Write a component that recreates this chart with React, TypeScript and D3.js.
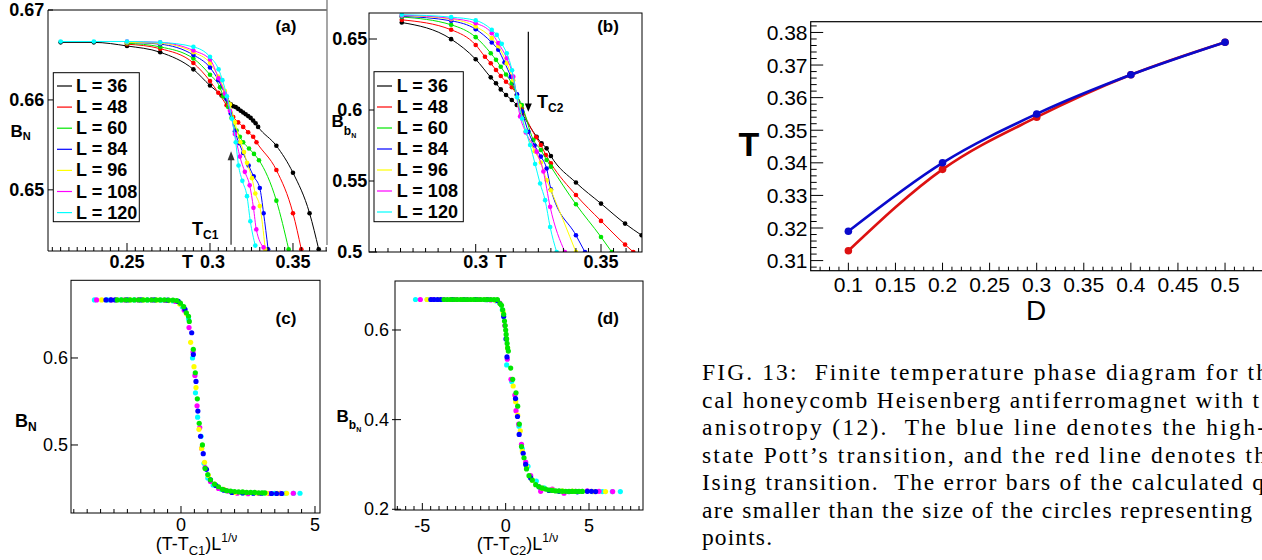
import React from "react";
import * as d3 from "d3";

const SANS = "'Liberation Sans', Arial, Helvetica, sans-serif";
const SERIF = "'Liberation Serif', 'Times New Roman', serif";

// ---------- legend / series ----------
const SIZE_LABELS = ["L = 36", "L = 48", "L = 60", "L = 84", "L = 96", "L = 108", "L = 120"];
const SIZE_COLORS = ["#000000", "#ff0000", "#00e600", "#0000ff", "#ffff00", "#ff00ff", "#00ffff"];

// ---------- panel (a): B_N vs T ----------
const a36T = [0.21, 0.23, 0.25, 0.27, 0.29, 0.30, 0.307, 0.311, 0.3125, 0.314, 0.3155, 0.317, 0.3185, 0.32, 0.3215, 0.323, 0.3245, 0.326, 0.3275, 0.329, 0.34, 0.35, 0.36, 0.3655];
const a36B = [0.6664, 0.6664, 0.6660, 0.6653, 0.6634, 0.6616, 0.6605, 0.6597, 0.6595, 0.6593, 0.6592, 0.6590, 0.6588, 0.6586, 0.6584, 0.6582, 0.6580, 0.6577, 0.6574, 0.6570, 0.6549, 0.6519, 0.6474, 0.6434];
const a48T = [0.25, 0.27, 0.29, 0.30, 0.305, 0.31, 0.314, 0.317, 0.32, 0.323, 0.326, 0.328, 0.34, 0.35, 0.355];
const a48B = [0.6662, 0.6657, 0.6641, 0.6621, 0.6608, 0.6594, 0.6581, 0.6575, 0.6570, 0.6564, 0.6559, 0.6553, 0.6522, 0.6474, 0.6434];
const a60T = [0.25, 0.27, 0.29, 0.30, 0.306, 0.308, 0.311, 0.313, 0.316, 0.318, 0.32, 0.3235, 0.3265, 0.3295, 0.34, 0.3474];
const a60B = [0.6663, 0.6659, 0.6646, 0.6628, 0.6614, 0.6604, 0.6592, 0.6580, 0.6566, 0.6559, 0.6553, 0.6546, 0.6540, 0.6533, 0.6488, 0.6434];
const a84T = [0.25, 0.27, 0.29, 0.30, 0.305, 0.31, 0.3125, 0.315, 0.3175, 0.32, 0.3233, 0.3263, 0.33, 0.3323, 0.335];
const a84B = [0.6664, 0.6662, 0.6650, 0.6636, 0.6622, 0.6601, 0.6585, 0.6565, 0.6552, 0.6541, 0.6527, 0.6515, 0.6502, 0.6474, 0.6434];
const a96T = [0.25, 0.27, 0.29, 0.30, 0.305, 0.309, 0.312, 0.315, 0.3183, 0.3205, 0.3223, 0.3253, 0.3273, 0.33, 0.3333];
const a96B = [0.6664, 0.6663, 0.6653, 0.6641, 0.6626, 0.6610, 0.6595, 0.6575, 0.6553, 0.6542, 0.6530, 0.6513, 0.6496, 0.6482, 0.6434];
const a108T = [0.25, 0.27, 0.29, 0.30, 0.3052, 0.309, 0.312, 0.315, 0.318, 0.321, 0.3239, 0.3262, 0.3279, 0.3323];
const a108B = [0.6665, 0.6664, 0.6655, 0.6645, 0.6624, 0.6607, 0.6588, 0.6562, 0.6537, 0.6520, 0.6505, 0.6480, 0.6456, 0.6436];
const a120T = [0.21, 0.23, 0.25, 0.27, 0.29, 0.30, 0.3052, 0.3075, 0.3102, 0.3132, 0.3155, 0.3172, 0.3195, 0.3223, 0.3243, 0.3273];
const a120B = [0.6665, 0.6665, 0.6665, 0.6664, 0.6659, 0.6648, 0.6634, 0.6622, 0.6604, 0.6579, 0.6553, 0.6527, 0.6510, 0.6493, 0.6465, 0.6438];

// ---------- panel (b): B_bN vs T ----------
const b36T = [0.2705, 0.2902, 0.30, 0.306, 0.3081, 0.31, 0.3121, 0.3144, 0.3164, 0.3184, 0.3243, 0.3263, 0.3283, 0.33, 0.34, 0.35, 0.3596, 0.3662];
const b36B = [0.6616, 0.6499, 0.6357, 0.623, 0.6188, 0.6145, 0.6106, 0.607, 0.6035, 0.5977, 0.5812, 0.5765, 0.573, 0.5676, 0.5489, 0.5341, 0.52, 0.5118];
const b48T = [0.2705, 0.2902, 0.30, 0.3037, 0.306, 0.3081, 0.31, 0.3121, 0.3144, 0.3164, 0.3184, 0.3241, 0.326, 0.328, 0.33, 0.34, 0.35, 0.3596, 0.3629];
const b48B = [0.6635, 0.6565, 0.6458, 0.6375, 0.6329, 0.6282, 0.6239, 0.6199, 0.616, 0.6106, 0.6012, 0.5808, 0.5754, 0.5683, 0.5624, 0.5401, 0.5219, 0.5052, 0.5];
const b60T = [0.2705, 0.2902, 0.30, 0.306, 0.3081, 0.31, 0.3121, 0.3144, 0.3164, 0.3184, 0.323, 0.326, 0.3283, 0.33, 0.34, 0.35, 0.3543];
const b60B = [0.6655, 0.66, 0.6513, 0.64, 0.6353, 0.6305, 0.625, 0.6188, 0.6106, 0.6035, 0.5789, 0.5718, 0.5648, 0.5601, 0.5336, 0.5106, 0.5];
const b84T = [0.2705, 0.2902, 0.30, 0.3064, 0.309, 0.3115, 0.314, 0.3165, 0.3185, 0.321, 0.3235, 0.326, 0.3283, 0.33, 0.34, 0.3436];
const b84B = [0.666, 0.6628, 0.6569, 0.6475, 0.6424, 0.6335, 0.6235, 0.611, 0.599, 0.5847, 0.575, 0.5672, 0.5588, 0.5442, 0.5118, 0.5];
const b96T = [0.2705, 0.2902, 0.30, 0.3064, 0.309, 0.3124, 0.315, 0.3175, 0.32, 0.3235, 0.326, 0.3283, 0.33, 0.34];
const b96B = [0.6665, 0.664, 0.6588, 0.6506, 0.645, 0.6329, 0.621, 0.603, 0.585, 0.571, 0.563, 0.5506, 0.5435, 0.5];
const b108T = [0.2705, 0.2902, 0.30, 0.3064, 0.309, 0.3124, 0.315, 0.3177, 0.32, 0.3243, 0.327, 0.3297, 0.3356];
const b108B = [0.6668, 0.6645, 0.6611, 0.6541, 0.6471, 0.6364, 0.6235, 0.5955, 0.5842, 0.5706, 0.5567, 0.5318, 0.5];
const b120T = [0.2705, 0.2902, 0.30, 0.3064, 0.3084, 0.3104, 0.3124, 0.3145, 0.3165, 0.3185, 0.32, 0.3217, 0.3237, 0.3257, 0.3277, 0.3297, 0.3323];
const b120B = [0.6671, 0.6654, 0.6631, 0.6565, 0.6529, 0.6466, 0.64, 0.628, 0.609, 0.594, 0.585, 0.5753, 0.562, 0.5482, 0.5365, 0.5176, 0.5];

const TC1 = 0.3127;
const TC2 = 0.321;

// ---------- panel (c): scaling collapse of B_N ----------
const cX120 = [-3.23, -2.75, -2.25, -1.75, -1.25, -0.75, -0.3, 0.05, 0.28, 0.43, 0.54, 0.62, 0.75, 0.86, 1.0, 1.2, 1.5, 1.9, 2.3, 2.7, 3.1, 3.5, 3.9, 4.2, 4.44];
const cY120 = [0.6667, 0.6667, 0.6667, 0.6667, 0.6667, 0.6665, 0.6655, 0.659, 0.645, 0.600, 0.560, 0.532, 0.510, 0.479, 0.462, 0.454, 0.449, 0.446, 0.445, 0.4448, 0.4445, 0.4445, 0.4445, 0.4445, 0.4445];
const cX108 = [-3.15, -2.6, -2.1, -1.6, -1.1, -0.6, -0.2, 0.12, 0.3, 0.45, 0.52, 0.6, 0.7, 0.77, 0.9, 1.1, 1.4, 1.75, 2.1, 2.5, 2.9, 3.3, 3.7, 4.19];
const cY108 = [0.6667, 0.6667, 0.6667, 0.6667, 0.6667, 0.6663, 0.665, 0.655, 0.635, 0.607, 0.580, 0.545, 0.520, 0.496, 0.474, 0.458, 0.450, 0.447, 0.4445, 0.444, 0.4445, 0.4442, 0.4445, 0.4445];
const cX96 = [-2.96, -2.4, -1.9, -1.4, -0.9, -0.45, -0.05, 0.2, 0.36, 0.485, 0.56, 0.67, 0.77, 0.88, 1.02, 1.25, 1.6, 2.0, 2.4, 2.8, 3.2, 3.6, 3.94];
const cY96 = [0.6667, 0.6667, 0.6667, 0.6667, 0.6666, 0.666, 0.662, 0.651, 0.618, 0.590, 0.566, 0.518, 0.496, 0.480, 0.465, 0.455, 0.449, 0.4455, 0.445, 0.4448, 0.4445, 0.4445, 0.4445];
const cX84 = [-2.8, -2.62, -2.46, -2.0, -1.5, -1.0, -0.5, -0.1, 0.15, 0.4, 0.46, 0.56, 0.63, 0.73, 0.83, 0.95, 1.1, 1.3, 1.6, 1.9, 2.3, 2.7, 3.0, 3.38, 3.57, 3.76];
const cY84 = [0.6667, 0.6667, 0.6667, 0.6667, 0.6667, 0.6667, 0.6664, 0.665, 0.656, 0.629, 0.604, 0.573, 0.539, 0.510, 0.490, 0.472, 0.460, 0.4535, 0.448, 0.4455, 0.4448, 0.4445, 0.4445, 0.4442, 0.4442, 0.4442];
const cX60 = [-2.38, -2.22, -2.06, -1.9, -1.74, -1.58, -1.42, -1.26, -1.1, -0.94, -0.78, -0.62, -0.46, -0.3, -0.16, -0.02, 0.1, 0.2, 0.28, 0.31, 0.46, 0.535, 0.61, 0.68, 0.8, 0.9, 1.0, 1.1, 1.25, 1.4, 1.55, 1.7, 1.85, 2.0, 2.15, 2.3, 2.45, 2.6, 2.75, 2.9, 3.03, 3.13];
const cY60 = [0.6667, 0.6667, 0.6667, 0.6667, 0.6667, 0.6667, 0.6667, 0.6667, 0.6667, 0.6667, 0.6667, 0.6667, 0.6666, 0.6665, 0.666, 0.663, 0.659, 0.652, 0.648, 0.642, 0.610, 0.583, 0.553, 0.525, 0.500, 0.473, 0.466, 0.460, 0.455, 0.452, 0.449, 0.4475, 0.447, 0.4465, 0.446, 0.446, 0.4455, 0.4455, 0.4455, 0.445, 0.445, 0.445];

// ---------- panel (d): scaling collapse of B_bN ----------
const dX120 = [-5.41, -4.7, -4.0, -3.3, -2.6, -1.9, -1.2, -0.6, -0.2, 0.06, 0.36, 0.6, 0.8, 1.0, 1.34, 1.84, 2.3, 2.83, 3.4, 4.0, 4.6, 5.2, 5.8, 6.4, 6.88];
const dY120 = [0.668, 0.668, 0.668, 0.668, 0.668, 0.668, 0.6675, 0.665, 0.645, 0.522, 0.485, 0.445, 0.385, 0.335, 0.296, 0.263, 0.248, 0.243, 0.241, 0.240, 0.240, 0.2395, 0.2395, 0.2395, 0.2395];
const dX108 = [-5.12, -4.4, -3.7, -3.0, -2.3, -1.6, -0.9, -0.35, -0.05, 0.1, 0.32, 0.55, 0.62, 0.78, 0.95, 1.2, 1.5, 2.1, 2.8, 3.5, 4.2, 4.9, 5.6, 6.42];
const dY108 = [0.668, 0.668, 0.668, 0.668, 0.668, 0.668, 0.667, 0.66, 0.61, 0.535, 0.49, 0.455, 0.42, 0.39, 0.345, 0.305, 0.275, 0.24, 0.245, 0.236, 0.24, 0.241, 0.24, 0.2395];
const dX96 = [-4.72, -4.0, -3.3, -2.6, -1.9, -1.2, -0.6, -0.15, 0.12, 0.45, 0.6, 0.72, 0.88, 1.0, 1.25, 1.6, 2.2, 2.8, 3.4, 4.0, 4.6, 5.3, 5.99];
const dY96 = [0.668, 0.668, 0.668, 0.668, 0.668, 0.6678, 0.666, 0.64, 0.56, 0.475, 0.44, 0.41, 0.375, 0.33, 0.295, 0.265, 0.247, 0.243, 0.241, 0.2405, 0.24, 0.2395, 0.2395];
const dX84 = [-4.49, -4.29, -4.09, -3.89, -3.2, -2.5, -1.8, -1.1, -0.5, -0.12, 0.02, 0.08, 0.59, 0.71, 0.81, 1.05, 1.2, 1.5, 2.0, 2.6, 3.2, 3.8, 4.3, 4.9, 5.15, 5.4];
const dY84 = [0.668, 0.668, 0.668, 0.668, 0.668, 0.668, 0.668, 0.6678, 0.666, 0.63, 0.58, 0.54, 0.447, 0.407, 0.367, 0.325, 0.3, 0.27, 0.25, 0.242, 0.24, 0.2395, 0.239, 0.24, 0.24, 0.2395];
const dX60 = [-3.7, -3.5, -3.3, -3.1, -2.9, -2.7, -2.5, -2.3, -2.1, -1.9, -1.7, -1.5, -1.3, -1.1, -0.9, -0.7, -0.5, -0.34, -0.25, -0.18, -0.12, -0.07, -0.03, 0.0, 0.03, 0.06, 0.09, 0.12, 0.16, 0.3, 0.42, 0.62, 0.72, 0.82, 0.95, 1.1, 1.25, 1.4, 1.6, 1.8, 2.0, 2.2, 2.4, 2.6, 2.8, 3.0, 3.2, 3.4, 3.6, 3.8, 4.0, 4.2, 4.4, 4.6];
const dY60 = [0.668, 0.668, 0.668, 0.668, 0.668, 0.668, 0.668, 0.668, 0.668, 0.668, 0.668, 0.668, 0.668, 0.668, 0.668, 0.668, 0.668, 0.659, 0.655, 0.645, 0.635, 0.62, 0.61, 0.6, 0.59, 0.58, 0.57, 0.56, 0.553, 0.515, 0.49, 0.46, 0.43, 0.39, 0.34, 0.315, 0.29, 0.275, 0.265, 0.255, 0.25, 0.247, 0.245, 0.243, 0.242, 0.241, 0.241, 0.24, 0.24, 0.2398, 0.2398, 0.2398, 0.2398, 0.2398];

// ---------- right: phase diagram ----------
const PD_D = [0.1, 0.2, 0.3, 0.4, 0.5];
const PD_POTTS = [0.319, 0.340, 0.355, 0.367, 0.377]; // blue
const PD_ISING = [0.313, 0.338, 0.354, 0.367, 0.377]; // red
const PD_XLABELS = [0.1, 0.15, 0.2, 0.25, 0.3, 0.35, 0.4, 0.45, 0.5];
const PD_YLABELS = [0.31, 0.32, 0.33, 0.34, 0.35, 0.36, 0.37, 0.38];

const CAPTION = [
  "FIG. 13:  Finite temperature phase diagram for th",
  "cal honeycomb Heisenberg antiferromagnet with t",
  "anisotropy (12).  The blue line denotes the high-",
  "state Pott\u2019s transition, and the red line denotes th",
  "Ising transition.  The error bars of the calculated q",
  "are smaller than the size of the circles representing",
  "points.",
];
const CAPTION_LEN = [566, 557, 563, 564, 562, 550, 70];

// ---------- helpers ----------
function stepTicks(lo: number, hi: number, step: number) {
  const out: number[] = [];
  const s = Math.ceil(lo / step - 1e-9);
  const e = Math.floor(hi / step + 1e-9);
  for (let i = s; i <= e; i++) out.push(+(i * step).toFixed(6));
  return out;
}
const isMul = (v: number, m: number) => Math.abs(v / m - Math.round(v / m)) < 1e-6;
const fmt = (v: number) => String(+v.toFixed(4));

function XTicks({ scale, ticks, y, major, minorLen, majorLen, x0, x1 }: any) {
  return (
    <g stroke="#000" strokeWidth={1}>
      {ticks
        .filter((t: number) => scale(t) > x0 + 0.5 && scale(t) < x1 - 0.5)
        .map((t: number, i: number) => {
          const len = isMul(t, major) ? majorLen : minorLen;
          return <line key={i} x1={scale(t)} x2={scale(t)} y1={y} y2={y - len} />;
        })}
    </g>
  );
}
function YTicks({ scale, ticks, x, major, minorLen, majorLen }: any) {
  return (
    <g stroke="#000" strokeWidth={1}>
      {ticks.map((t: number, i: number) => {
        const len = isMul(t, major) ? majorLen : minorLen;
        return <line key={i} x1={x} x2={x + len} y1={scale(t)} y2={scale(t)} />;
      })}
    </g>
  );
}

function CurveWithPoints({ T, B, xs, ys, color, r, lineWidth }: any) {
  const pts: [number, number][] = T.map((t: number, i: number) => [xs(t), ys(B[i])]);
  const d = d3.line().curve(d3.curveMonotoneX)(pts) || "";
  return (
    <g>
      <path d={d} fill="none" stroke={color} strokeWidth={lineWidth} />
      {pts.map((p, i) => (
        <circle key={i} cx={p[0]} cy={p[1]} r={r} fill={color} />
      ))}
    </g>
  );
}
function Dots({ X, Y, xs, ys, color, r }: any) {
  return (
    <g>
      {X.map((x: number, i: number) => (
        <circle key={i} cx={xs(x)} cy={ys(Y[i])} r={r} fill={color} />
      ))}
    </g>
  );
}

function Legend({ x, y, w, h, rowY0, rowDy, lx0, lx1, tx }: any) {
  return (
    <g>
      <rect x={x} y={y} width={w} height={h} fill="#fff" stroke="#000" strokeWidth={1} />
      {SIZE_LABELS.map((lab, i) => {
        const ry = rowY0 + i * rowDy;
        return (
          <g key={i}>
            <line x1={lx0} x2={lx1} y1={ry} y2={ry} stroke={SIZE_COLORS[i]} strokeWidth={1.2} />
            <text x={tx} y={ry} dominantBaseline="central" fontFamily={SANS} fontWeight="bold" fontSize={18} fill="#000">
              {lab}
            </text>
          </g>
        );
      })}
    </g>
  );
}

// ---------- panels ----------
function PanelA() {
  const L = 48, R = 327, Tp = 10, Bt = 251;
  const xs = d3.scaleLinear().domain([0.2024, 0.3705]).range([L, R]);
  const ys = d3.scaleLinear().domain([0.6432, 0.67]).range([Bt, Tp]);
  const series = [[a36T, a36B], [a48T, a48B], [a60T, a60B], [a84T, a84B], [a96T, a96B], [a108T, a108B], [a120T, a120B]];
  const ax = TC1;
  return (
    <g>
      <defs>
        <clipPath id="clipA"><rect x={L} y={Tp} width={R - L} height={Bt - Tp} /></clipPath>
      </defs>
      <g clipPath="url(#clipA)">
        {series.map((s, i) => (
          <CurveWithPoints key={i} T={s[0]} B={s[1]} xs={xs} ys={ys} color={SIZE_COLORS[i]} r={2.3} lineWidth={1} />
        ))}
      </g>
      <line x1={L} x2={R} y1={Tp} y2={Tp} stroke="#000" />
      <line x1={L} x2={L} y1={Tp} y2={Bt} stroke="#000" />
      <line x1={L} x2={R} y1={Bt} y2={Bt} stroke="#000" />
      <line x1={R} x2={R} y1={0} y2={245} stroke="#777" strokeWidth={1.3} />
      <XTicks scale={xs} ticks={stepTicks(0.2024, 0.3705, 0.005)} y={Bt} major={0.05} minorLen={4} majorLen={8} x0={L} x1={R} />
      <YTicks scale={ys} ticks={[0.65, 0.66, 0.67]} x={L} major={0.01} minorLen={5} majorLen={5} />
      {[0.65, 0.66, 0.67].map((v) => (
        <text key={v} x={26.7} y={ys(v)} textAnchor="middle" dominantBaseline="central" fontFamily={SANS} fontWeight="bold" fontSize={18}>{fmt(v)}</text>
      ))}
      {[0.25, 0.3, 0.35].map((v) => (
        <text key={v} x={v === 0.3 ? xs(v) + 2.5 : xs(v)} y={262} textAnchor="middle" dominantBaseline="central" fontFamily={SANS} fontWeight="bold" fontSize={18}>{fmt(v)}</text>
      ))}
      <text x={187.5} y={262} textAnchor="middle" dominantBaseline="central" fontFamily={SANS} fontWeight="bold" fontSize={18}>T</text>
      <text x={10.5} y={137} fontFamily={SANS} fontWeight="bold" fontSize={17}>B<tspan fontSize={11} dy={3}>N</tspan></text>
      <text x={286} y={26} textAnchor="middle" dominantBaseline="central" fontFamily={SANS} fontWeight="bold" fontSize={17}>(a)</text>
      <Legend x={53.3} y={72.7} w={86} h={149} rowY0={86} rowDy={21.1} lx0={57} lx1={72} tx={76} />
      {/* T_C1 arrow */}
      <line x1={xs(ax)} x2={xs(ax)} y1={ys(0.6439)} y2={ys(0.6535)} stroke="#555" strokeWidth={1.5} />
      <path d={`M${xs(ax) - 3.5},${ys(0.6533)} L${xs(ax) + 3.5},${ys(0.6533)} L${xs(ax)},${ys(0.6543)} Z`} fill="#333" />
      <text x={192} y={235} fontFamily={SANS} fontWeight="bold" fontSize={18}>T<tspan fontSize={12} dy={4}>C1</tspan></text>
    </g>
  );
}

function PanelB() {
  const L = 369, R = 642, Tp = 13, Bt = 252;
  const xs = d3.scaleLinear().domain([0.25742, 0.36636]).range([L, R]);
  const ys = d3.scaleLinear().domain([0.5, 0.66831]).range([Bt, Tp]);
  const series = [[b36T, b36B], [b48T, b48B], [b60T, b60B], [b84T, b84B], [b96T, b96B], [b108T, b108B], [b120T, b120B]];
  const ax = TC2;
  return (
    <g>
      <defs>
        <clipPath id="clipB"><rect x={L} y={Tp} width={R - L} height={Bt - Tp} /></clipPath>
      </defs>
      <g clipPath="url(#clipB)">
        {series.map((s, i) => (
          <CurveWithPoints key={i} T={s[0]} B={s[1]} xs={xs} ys={ys} color={SIZE_COLORS[i]} r={2.3} lineWidth={1} />
        ))}
      </g>
      <rect x={L} y={Tp} width={R - L} height={Bt - Tp} fill="none" stroke="#000" />
      <XTicks scale={xs} ticks={stepTicks(0.25742, 0.36636, 0.005)} y={Bt} major={0.05} minorLen={4} majorLen={8} x0={L} x1={R} />
      <YTicks scale={ys} ticks={[0.5, 0.55, 0.6, 0.65]} x={L} major={0.05} minorLen={8} majorLen={8} />
      {[0.5, 0.55, 0.6, 0.65].map((v) => (
        <text key={v} x={349.7} y={ys(v)} textAnchor="middle" dominantBaseline="central" fontFamily={SANS} fontWeight="bold" fontSize={18}>{fmt(v)}</text>
      ))}
      {[0.3, 0.35].map((v) => (
        <text key={v} x={xs(v)} y={262} textAnchor="middle" dominantBaseline="central" fontFamily={SANS} fontWeight="bold" fontSize={18}>{fmt(v)}</text>
      ))}
      <text x={501} y={262} textAnchor="middle" dominantBaseline="central" fontFamily={SANS} fontWeight="bold" fontSize={18}>T</text>
      <text x={331.5} y={127} fontFamily={SANS} fontWeight="bold" fontSize={17}>B<tspan fontSize={12} dy={8}>b</tspan><tspan fontSize={7} dy={3}>N</tspan></text>
      <text x={608} y={26} textAnchor="middle" dominantBaseline="central" fontFamily={SANS} fontWeight="bold" fontSize={17}>(b)</text>
      <Legend x={374} y={71.7} w={89.3} h={150} rowY0={86} rowDy={21} lx0={377} lx1={392} tx={396.7} />
      {/* T_C2 arrow */}
      <line x1={xs(ax)} x2={xs(ax)} y1={ys(0.6551)} y2={ys(0.6035)} stroke="#000" strokeWidth={1.2} />
      <path d={`M${xs(ax) - 3.5},${ys(0.6045)} L${xs(ax) + 3.5},${ys(0.6045)} L${xs(ax)},${ys(0.5988)} Z`} fill="#000" />
      <text x={537} y={108} fontFamily={SANS} fontWeight="bold" fontSize={18}>T<tspan fontSize={12} dy={4}>C2</tspan></text>
    </g>
  );
}

function PanelC() {
  const L = 71, R = 320, Tp = 280.3, Bt = 513;
  const xs = d3.scaleLinear().domain([-4.104, 5.187]).range([L, R]);
  const ys = d3.scaleLinear().domain([0.4218, 0.6893]).range([Bt, Tp]);
  const sets = [[cX120, cY120, 6], [cX108, cY108, 5], [cX96, cY96, 4], [cX84, cY84, 3], [cX60, cY60, 2]];
  return (
    <g>
      {sets.map((s: any, i) => (
        <Dots key={i} X={s[0]} Y={s[1]} xs={xs} ys={ys} color={SIZE_COLORS[s[2]]} r={2.6} />
      ))}
      <rect x={L} y={Tp} width={R - L} height={Bt - Tp} fill="none" stroke="#000" />
      <XTicks scale={xs} ticks={stepTicks(-4.104, 5.187, 0.5)} y={Bt} major={5} minorLen={4} majorLen={7} x0={L} x1={R} />
      <YTicks scale={ys} ticks={[0.5, 0.6]} x={L} major={0.1} minorLen={7} majorLen={7} />
      {[0.5, 0.6].map((v) => (
        <text key={v} x={68} y={ys(v)} textAnchor="end" dominantBaseline="central" fontFamily={SANS} fontSize={18}>{fmt(v)}</text>
      ))}
      {[0, 5].map((v) => (
        <text key={v} x={xs(v)} y={524.5} textAnchor="middle" dominantBaseline="central" fontFamily={SANS} fontSize={18}>{fmt(v)}</text>
      ))}
      <text x={196.5} y={550} textAnchor="middle" fontFamily={SANS} fontSize={18}>(T-T<tspan fontSize={13} dy={5}>C1</tspan><tspan dy={-5}>)L</tspan><tspan fontSize={12} dy={-8}>1/ν</tspan></text>
      <text x={15} y={427} fontFamily={SANS} fontWeight="bold" fontSize={18}>B<tspan fontSize={12} dy={4}>N</tspan></text>
      <text x={286} y={318} textAnchor="middle" dominantBaseline="central" fontFamily={SANS} fontWeight="bold" fontSize={17}>(c)</text>
    </g>
  );
}

function PanelD() {
  const L = 395, R = 643, Tp = 281, Bt = 510;
  const xs = d3.scaleLinear().domain([-6.64, 8.24]).range([L, R]);
  const ys = d3.scaleLinear().domain([0.1984, 0.7093]).range([Bt, Tp]);
  const sets = [[dX120, dY120, 6], [dX108, dY108, 5], [dX96, dY96, 4], [dX84, dY84, 3], [dX60, dY60, 2]];
  return (
    <g>
      {sets.map((s: any, i) => (
        <Dots key={i} X={s[0]} Y={s[1]} xs={xs} ys={ys} color={SIZE_COLORS[s[2]]} r={2.6} />
      ))}
      <rect x={L} y={Tp} width={R - L} height={Bt - Tp} fill="none" stroke="#000" />
      <XTicks scale={xs} ticks={stepTicks(-6.64, 8.24, 0.5)} y={Bt} major={5} minorLen={4} majorLen={7} x0={L} x1={R} />
      <YTicks scale={ys} ticks={[0.2, 0.4, 0.6]} x={L - 3} major={0.2} minorLen={9} majorLen={9} />
      {[0.2, 0.4, 0.6].map((v) => (
        <text key={v} x={389} y={ys(v)} textAnchor="end" dominantBaseline="central" fontFamily={SANS} fontSize={18}>{fmt(v)}</text>
      ))}
      {[-5, 0, 5].map((v) => (
        <text key={v} x={xs(v)} y={525.5} textAnchor="middle" dominantBaseline="central" fontFamily={SANS} fontSize={18}>{fmt(v)}</text>
      ))}
      <text x={517.5} y={550} textAnchor="middle" fontFamily={SANS} fontSize={18}>(T-T<tspan fontSize={13} dy={5}>C2</tspan><tspan dy={-5}>)L</tspan><tspan fontSize={12} dy={-8}>1/ν</tspan></text>
      <text x={336.5} y={422} fontFamily={SANS} fontWeight="bold" fontSize={17}>B<tspan fontSize={12} dy={7}>b</tspan><tspan fontSize={7} dy={3}>N</tspan></text>
      <text x={608} y={318} textAnchor="middle" dominantBaseline="central" fontFamily={SANS} fontWeight="bold" fontSize={17}>(d)</text>
    </g>
  );
}

function PhaseDiagram() {
  const L = 810.7, R = 1262.7, Tp = 21.7, Bt = 270.7;
  const xs = d3.scaleLinear().domain([0.06, 0.54]).range([L, R]);
  const ys = d3.scaleLinear().domain([0.3069, 0.3833]).range([Bt, Tp]);
  return (
    <g>
      <rect x={L} y={Tp} width={R - L} height={Bt - Tp} fill="none" stroke="#000" strokeWidth={1.2} />
      <XTicks scale={xs} ticks={stepTicks(0.06, 0.54, 0.01)} y={Bt} major={0.05} minorLen={4} majorLen={8} x0={L} x1={R} />
      <YTicks scale={ys} ticks={stepTicks(0.3069, 0.3833, 0.002)} x={L} major={0.01} minorLen={6} majorLen={12.5} />
      {PD_YLABELS.map((v) => (
        <text key={v} x={807.5} y={ys(v)} textAnchor="end" dominantBaseline="central" fontFamily={SANS} fontSize={21}>{fmt(v)}</text>
      ))}
      {PD_XLABELS.map((v) => (
        <text key={v} x={xs(v)} y={292} textAnchor="middle" fontFamily={SANS} fontSize={21}>{fmt(v)}</text>
      ))}
      <text x={1036} y={320} textAnchor="middle" fontFamily={SANS} fontSize={28}>D</text>
      <text x={749} y={156} textAnchor="middle" fontFamily={SANS} fontWeight="bold" fontSize={34}>T</text>
      <CurveWithPoints T={PD_D} B={PD_ISING} xs={xs} ys={ys} color="#dd1111" r={3.8} lineWidth={2.6} />
      <CurveWithPoints T={PD_D} B={PD_POTTS} xs={xs} ys={ys} color="#0a0acc" r={3.8} lineWidth={2.6} />
    </g>
  );
}

function Caption() {
  return (
    <g fontFamily={SERIF} fontSize={23.5} fill="#000">
      {CAPTION.map((line, i) => (
        <text key={i} x={702} y={380 + i * 27.5} textLength={CAPTION_LEN[i]} lengthAdjust="spacing" style={{ whiteSpace: "pre" }}>
          {line}
        </text>
      ))}
    </g>
  );
}

export default function App() {
  return (
    <svg
      width={1262}
      height={560}
      viewBox="0 0 1262 560"
      style={{ position: "absolute", left: 0, top: 0, background: "#fff", display: "block" }}
    >
      <rect x={0} y={0} width={1262} height={560} fill="#fff" />
      <PanelA />
      <PanelB />
      <PanelC />
      <PanelD />
      <PhaseDiagram />
      <Caption />
    </svg>
  );
}
